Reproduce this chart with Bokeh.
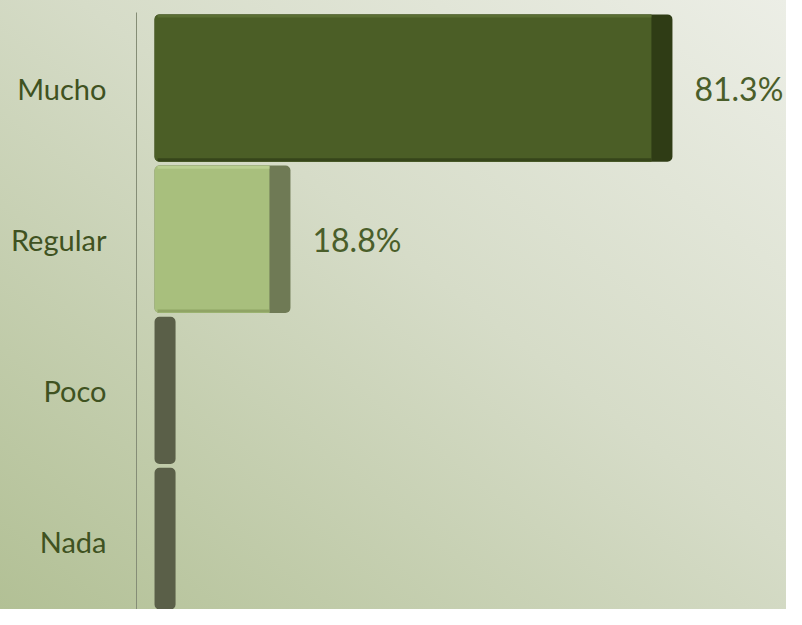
from bokeh.plotting import figure
from bokeh.models import ColumnDataSource, FixedTicker, Range1d
from bokeh.core.properties import value
from bokeh.embed import file_html
from bokeh.resources import INLINE

categories = ["Mucho", "Regular", "Poco", "Nada"]
percentages = [81.3, 18.8, 0.0, 0.0]
value_labels = ["81.3%", "18.8%", "", ""]
front_colors = ["#4b5e26", "#a8bf7d", "#5a5f48", "#5a5f48"]
side_colors = ["#2f3c15", "#6f7a55", "#5a5f48", "#5a5f48"]
top_colors = ["#5a6e33", "#b9cf90", "#646a52", "#646a52"]
bottom_colors = ["#34421a", "#8da163", "#4a4f3b", "#4a4f3b"]

DEPTH = 3.44
BAR_H = 0.975
n = len(categories)
ypos = [n - 1 - i for i in range(n)]

src = ColumnDataSource(dict(
    y=ypos,
    ytop=[y + BAR_H / 2 - 0.012 for y in ypos],
    ybot=[y - BAR_H / 2 + 0.013 for y in ypos],
    v=percentages,
    vstart=[min(0.5, v) for v in percentages],
    vside=[v + DEPTH for v in percentages],
    lab=value_labels,
    fc=front_colors,
    sc=side_colors,
    tc=top_colors,
    bc=bottom_colors,
))

p = figure(width=786, height=609,
           x_range=Range1d(-2.95, 103.4), y_range=Range1d(-0.45, 3.5),
           min_border_left=136, min_border_right=0, min_border_top=12, min_border_bottom=0,
           output_backend="svg", toolbar_location=None)

p.styles = {"background": "linear-gradient(to bottom left, #eceee6 0%, #d6dcc8 45%, #b2c095 100%)"}
p.background_fill_alpha = 0
p.border_fill_alpha = 0
p.outline_line_color = None
p.xgrid.visible = False
p.ygrid.visible = False
p.xaxis.visible = False

# side (3D depth) face
p.hbar(y="y", left=0, right="vside", height=BAR_H, source=src,
       fill_color="sc", line_color=None, border_radius=5)
# front face
p.hbar(y="y", left=0, right="v", height=BAR_H, source=src,
       fill_color="fc", line_color=None, border_radius=(5, 0, 0, 5))
# bevel highlight / shade strips on the front face
p.hbar(y="ytop", left="vstart", right="v", height=0.018, source=src,
       fill_color="tc", line_color=None)
p.hbar(y="ybot", left="vstart", right="v", height=0.02, source=src,
       fill_color="bc", line_color=None, fill_alpha=0.9)

p.text(x="vside", y="y", text="lab", source=src, x_offset=22,
       text_baseline="middle", text_align="left",
       text_font=value("Lato"), text_font_size="32px", text_color="#4a5e2a")

yax = p.yaxis[0]
yax.ticker = FixedTicker(ticks=ypos)
yax.major_label_overrides = {y: c for y, c in zip(ypos, categories)}
yax.major_tick_line_color = None
yax.minor_tick_line_color = None
yax.major_tick_out = 0
yax.major_tick_in = 0
yax.major_label_standoff = 30
yax.axis_line_color = "#858d76"
yax.axis_line_width = 1
yax.major_label_text_font = "Lato"
yax.major_label_text_font_size = "29px"
yax.major_label_text_color = "#3f5221"

open("out.html", "w").write(file_html(p, INLINE))
